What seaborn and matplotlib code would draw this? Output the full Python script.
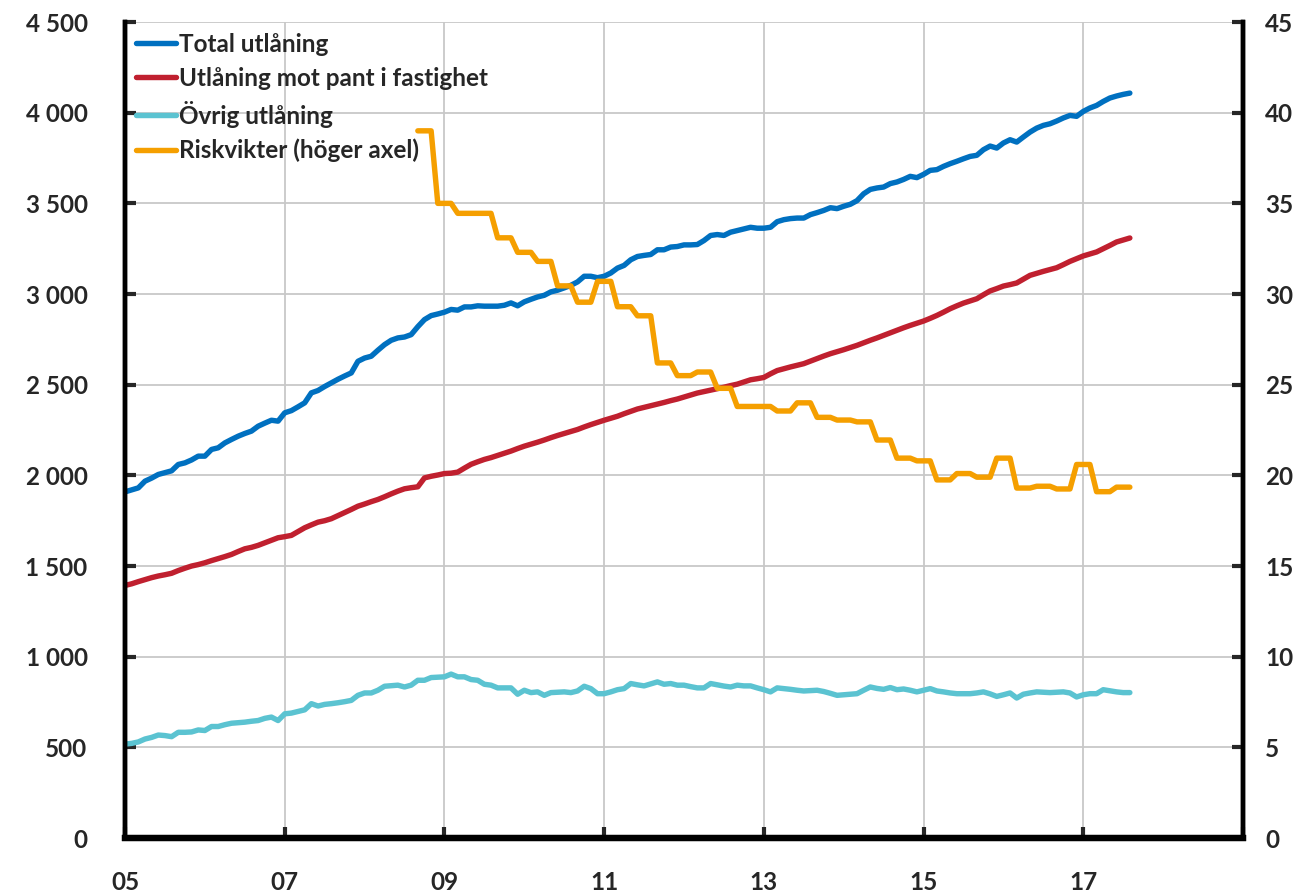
import numpy as np
import pandas as pd
import matplotlib
matplotlib.use("Agg")
import matplotlib.pyplot as plt
import seaborn as sns
from matplotlib.ticker import FuncFormatter

# monthly data, jan 2005 - aug 2017 (mdr kr)
total_utlaning = [
    1909, 1920, 1931, 1968, 1985, 2005, 2015, 2025, 2060, 2069, 2085, 2106,
    2106, 2143, 2152, 2179, 2198, 2216, 2231, 2244, 2271, 2288, 2304, 2299,
    2345, 2357, 2378, 2400, 2455, 2468, 2490, 2510, 2530, 2548, 2565, 2629,
    2647, 2657, 2690, 2721, 2745, 2758, 2763, 2776, 2820, 2859, 2881, 2890,
    2900, 2915, 2911, 2929, 2929, 2935, 2933, 2933, 2933, 2938, 2951, 2935,
    2957, 2971, 2984, 2993, 3012, 3021, 3034, 3048, 3067, 3098, 3098, 3090,
    3098, 3116, 3143, 3158, 3189, 3207, 3213, 3218, 3244, 3244, 3259, 3262,
    3271, 3271, 3273, 3295, 3323, 3328, 3323, 3341, 3350, 3359, 3368, 3363,
    3363, 3368, 3399, 3410, 3416, 3419, 3419, 3438, 3449, 3461, 3476, 3471,
    3484, 3495, 3515, 3553, 3577, 3585, 3590, 3609, 3618, 3632, 3649, 3642,
    3660, 3682, 3686, 3704, 3719, 3732, 3746, 3759, 3765, 3796, 3816, 3805,
    3833, 3851, 3838, 3866, 3893, 3915, 3930, 3939, 3954, 3971, 3985, 3980,
    4007, 4026, 4040, 4062, 4081, 4092, 4101, 4108,
]
pant_fastighet = [
    1393, 1402, 1414, 1425, 1436, 1445, 1452, 1460, 1475, 1488, 1500, 1508,
    1518, 1530, 1541, 1552, 1564, 1580, 1595, 1603, 1614, 1628, 1642, 1656,
    1662, 1669, 1690, 1711, 1727, 1742, 1750, 1761, 1778, 1795, 1812, 1830,
    1842, 1855, 1867, 1882, 1898, 1913, 1926, 1932, 1937, 1986, 1995, 2002,
    2010, 2012, 2018, 2040, 2061, 2075, 2088, 2098, 2110, 2122, 2134, 2148,
    2161, 2172, 2183, 2195, 2208, 2220, 2231, 2242, 2253, 2267, 2280, 2292,
    2304, 2315, 2326, 2340, 2353, 2366, 2375, 2384, 2393, 2402, 2412, 2421,
    2432, 2443, 2454, 2462, 2470, 2478, 2486, 2495, 2503, 2515, 2527, 2533,
    2540, 2560, 2578, 2588, 2598, 2607, 2616, 2630, 2644, 2658, 2671, 2682,
    2693, 2705, 2717, 2731, 2745, 2758, 2772, 2786, 2800, 2814, 2827, 2839,
    2851, 2866, 2882, 2900, 2919, 2935, 2950, 2962, 2974, 2996, 3017, 3030,
    3044, 3052, 3061, 3082, 3103, 3114, 3125, 3135, 3145, 3162, 3180, 3195,
    3210, 3221, 3232, 3250, 3268, 3287, 3298, 3309,
]
ovrig_utlaning = [
    518, 522, 530, 546, 555, 568, 565, 559, 583, 583, 585, 596,
    593, 615, 615, 625, 633, 636, 639, 644, 648, 660, 667, 648,
    685, 689, 698, 707, 741, 728, 737, 741, 746, 752, 759, 787,
    800, 800, 815, 837, 840, 843, 833, 843, 870, 870, 885, 887,
    889, 904, 889, 889, 874, 870, 848, 843, 828, 828, 828, 793,
    815, 802, 806, 787, 802, 804, 806, 802, 811, 837, 824, 796,
    796, 806, 818, 824, 852, 845, 839, 850, 861, 848, 852, 843,
    843, 835, 828, 828, 852, 845, 838, 833, 843, 839, 839, 828,
    818, 806, 828, 824, 820, 815, 811, 813, 815, 808, 798, 787,
    790, 793, 796, 815, 833, 825, 820, 830, 818, 822, 815, 806,
    815, 824, 811, 806, 800, 796, 796, 796, 800, 806, 795, 781,
    790, 800, 772, 793, 800, 806, 804, 802, 804, 806, 800, 778,
    790, 796, 796, 818, 812, 806, 802, 802,
]
# quarterly risk weights (procent), from sep 2008
riskvikter_kv = [
    39.0, 35.0, 34.45, 34.45, 33.1, 32.3, 31.8, 30.45, 29.55, 30.7, 29.3, 28.8,
    26.2, 25.5, 25.7, 24.8, 23.8, 23.8, 23.55, 24.0, 23.2, 23.05, 22.95, 21.95,
    20.95, 20.8, 19.75, 20.1, 19.9, 20.95, 19.3, 19.4, 19.25, 20.6, 19.1, 19.35,
]

labels = ["Total utlåning", "Utlåning mot pant i fastighet",
          "Övrig utlåning", "Riskvikter (höger axel)"]
colors = ["#0070c0", "#c0202f", "#5bc3d1", "#f59f00"]

tid = 2005 + np.arange(len(total_utlaning)) / 12
df = pd.DataFrame({"tid": tid, labels[0]: total_utlaning,
                   labels[1]: pant_fastighet, labels[2]: ovrig_utlaning})
risk = pd.DataFrame({"tid": 2005 + (44 + np.arange(3 * len(riskvikter_kv))) / 12,
                     "risk": np.repeat(riskvikter_kv, 3)})

sns.set_style("white")
plt.rcParams["font.family"] = ["Lato", "DejaVu Sans"]
plt.rcParams["font.weight"] = "bold"

fig = plt.figure(figsize=(13.01, 8.92), dpi=100)
ax = fig.add_axes([0.0961, 0.0605, 0.8593, 0.9148])
ax2 = ax.twinx()

lw = 3.9
for i in range(3):
    sns.lineplot(data=df, x="tid", y=labels[i], ax=ax, color=colors[i],
                 linewidth=lw, label=labels[i], legend=False)
sns.lineplot(data=risk, x="tid", y="risk", ax=ax2, color=colors[3],
             linewidth=lw, label=labels[3], legend=False)

ax.set_xlim(2005, 2019)
ax.set_ylim(0, 4500)
ax2.set_ylim(0, 45)
ax.set_xticks(np.arange(2005, 2020, 2))
ax.set_xticklabels(["05", "07", "09", "11", "13", "15", "17", ""])
ax.set_yticks(np.arange(0, 4501, 500))
ax.yaxis.set_major_formatter(FuncFormatter(lambda v, p: f"{int(v):,}".replace(",", " ")))
ax2.set_yticks(np.arange(0, 46, 5))
ax.set_xlabel("")
ax.set_ylabel("")
ax2.set_ylabel("")

ax.grid(True, color="#c8c8c8", linewidth=1.3)
ax2.grid(False)
ax.set_axisbelow(True)

for a in (ax, ax2):
    a.spines["top"].set_visible(False)
    for s in ("left", "right"):
        a.spines[s].set_linewidth(3.2)
        a.spines[s].set_color("black")
    a.spines["bottom"].set_linewidth(4.5)
    a.spines["bottom"].set_color("black")

ax.tick_params(axis="y", direction="in", length=8, width=3, pad=27,
               labelsize=17.5, left=True)
ax.tick_params(axis="x", direction="in", length=8, width=3, pad=24,
               labelsize=17.5, bottom=True)
ax2.tick_params(axis="y", direction="in", length=8, width=3, pad=16,
                labelsize=17.5, right=True)
for t in ax.get_xticklabels() + ax.get_yticklabels() + ax2.get_yticklabels():
    t.set_fontweight("bold")

h1, l1 = ax.get_legend_handles_labels()
h2, l2 = ax2.get_legend_handles_labels()
leg = ax2.legend(h1 + h2, l1 + l2, loc="upper left", bbox_to_anchor=(0.0, 1.0),
                 frameon=False, fontsize=17.5, handlelength=1.65, handletextpad=0.12,
                 labelspacing=0.45, borderaxespad=0.15, borderpad=0.3)
for t in leg.get_texts():
    t.set_fontweight("bold")

fig.savefig("out.png", dpi=100)
